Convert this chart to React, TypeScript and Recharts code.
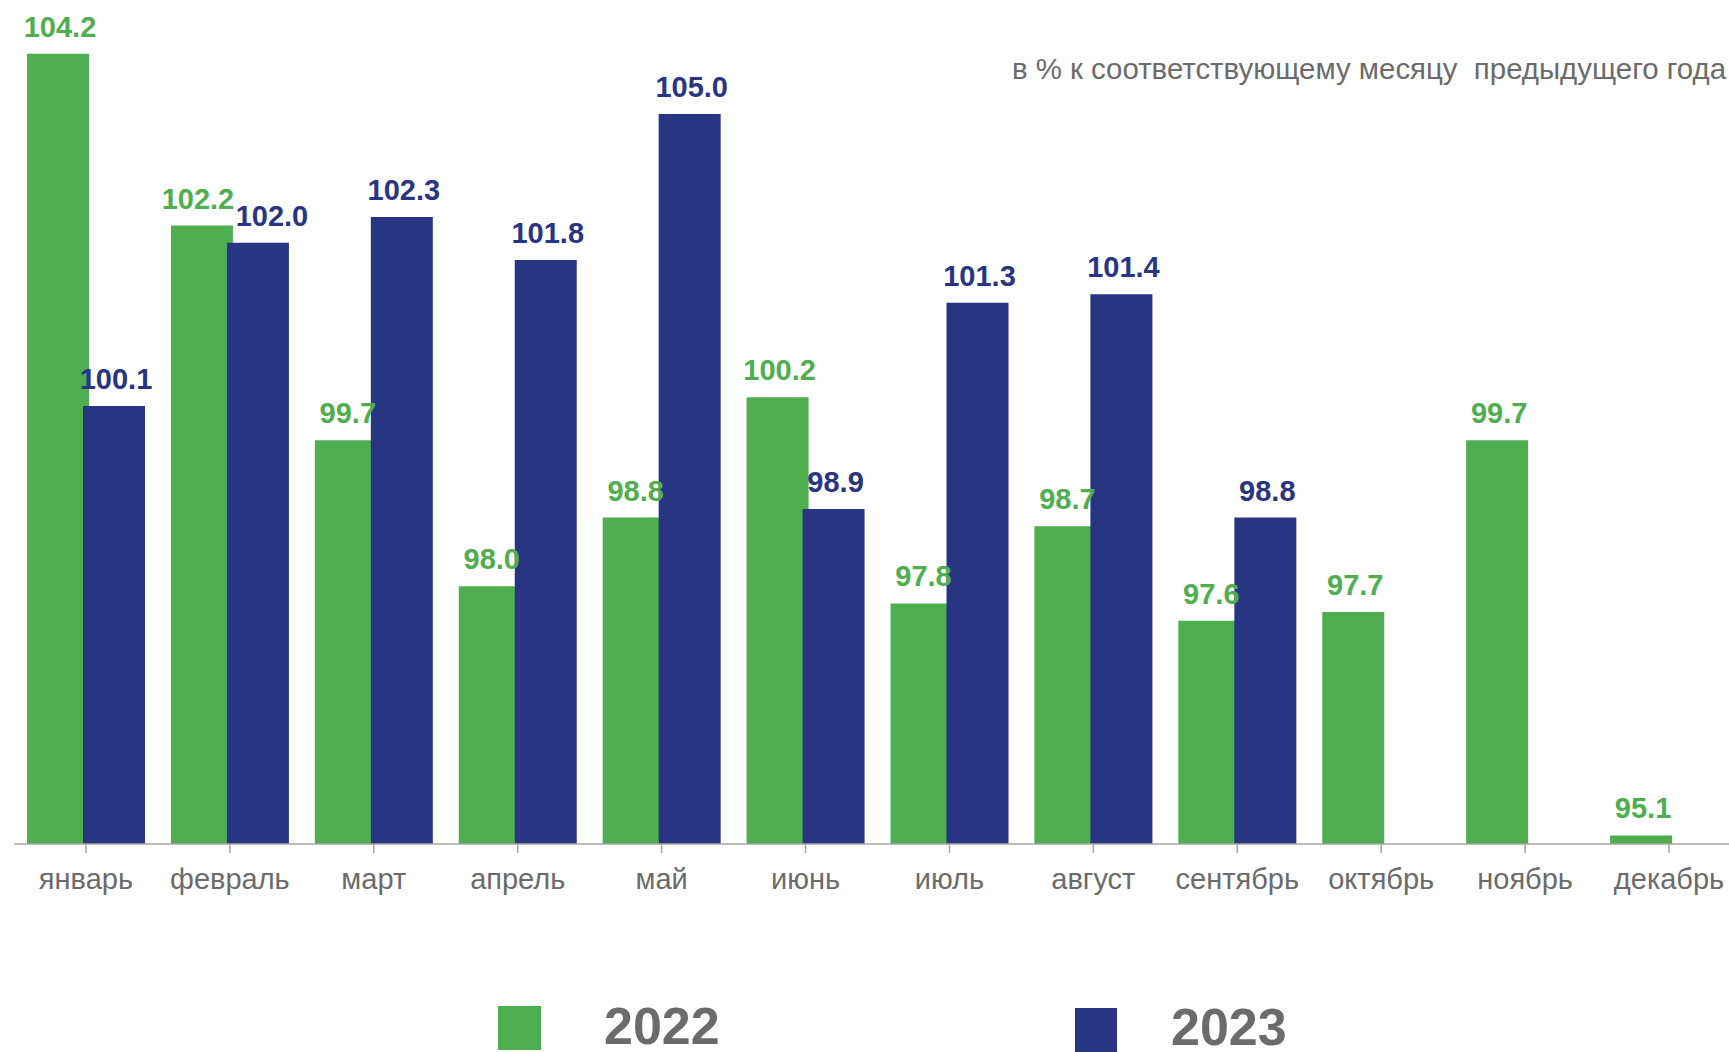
import React from 'react';
import { BarChart, Bar, XAxis, YAxis, LabelList, Legend } from 'recharts';

const months = ['январь', 'февраль', 'март', 'апрель', 'май', 'июнь', 'июль', 'август', 'сентябрь', 'октябрь', 'ноябрь', 'декабрь'];

const values2022 = [104.2, 102.2, 99.7, 98.0, 98.8, 100.2, 97.8, 98.7, 97.6, 97.7, 99.7, 95.1];

// heights as drawn in the source; the may bar sits lower than its 105.0 label
const values2023 = [100.1, 102.0, 102.3, 101.8, 103.5, 98.9, 101.3, 101.4, 98.8, null, null, null];
const labels2023 = ['100.1', '102.0', '102.3', '101.8', '105.0', '98.9', '101.3', '101.4', '98.8', null, null, null];

const GREEN = '#4FAE4F';
const BLUE = '#283583';
const GREY = '#6b6b6b';

const data = months.map((m, i) => ({
  month: m,
  y2022: values2022[i],
  y2023: values2023[i],
  l2022: values2022[i].toFixed(1),
  l2023: labels2023[i],
}));

// labels of neighbouring bars with close heights get pushed apart
const isClash = (i: number) => {
  const b = values2023[i];
  return b != null && Math.abs(values2022[i] - b) < 0.5;
};

const makeLabel = (color: string, side: number) => (props: any) => {
  const { x, y, width, value, index } = props;
  if (value == null) return null;
  const dx = isClash(index) ? (side > 0 ? 14 : -4) : 2;
  return (
    <text
      x={x + width / 2 + dx}
      y={y - 17}
      textAnchor='middle'
      fill={color}
      fontSize={29}
      fontWeight='bold'
    >
      {value}
    </text>
  );
};

const renderLegend = () => (
  <div style={{ position: 'relative', width: 1729, height: 46 }}>
    <div style={{ position: 'absolute', left: 498, top: 0, width: 43, height: 44, background: GREEN }} />
    <div style={{ position: 'absolute', left: 604, top: -2, fontSize: 52, fontWeight: 'bold', lineHeight: '44px', color: GREY }}>2022</div>
    <div style={{ position: 'absolute', left: 1075, top: 2, width: 42, height: 44, background: BLUE }} />
    <div style={{ position: 'absolute', left: 1171, top: -1, fontSize: 52, fontWeight: 'bold', lineHeight: '44px', color: GREY }}>2023</div>
  </div>
);

const App: React.FC = () => {
  return (
    <div
      style={{
        position: 'relative',
        width: 1729,
        height: 1052,
        overflow: 'hidden',
        fontFamily: '"Liberation Sans", Arial, sans-serif',
      }}
    >
      <style>{'html, body { margin: 0; padding: 0; overflow: hidden; }'}</style>
      <div
        style={{
          position: 'absolute',
          right: 3,
          top: 51,
          fontSize: 29.4,
          lineHeight: '36px',
          color: GREY,
          whiteSpace: 'pre',
          zIndex: 2,
        }}
      >
        {'в % к соответствующему месяцу  предыдущего года'}
      </div>
      <BarChart
        width={1741}
        height={1052}
        data={data}
        margin={{ top: 28, right: 0, left: 14, bottom: 0 }}
        barSize={62}
        barGap={-6}
      >
        <XAxis
          dataKey='month'
          height={208}
          interval={0}
          axisLine={{ stroke: '#a6a6a6', strokeWidth: 1.5 }}
          tickLine={{ stroke: '#a6a6a6', strokeWidth: 1.5 }}
          tickSize={9}
          tickMargin={15}
          tick={{ fontSize: 29, fill: GREY }}
        />
        <YAxis hide domain={[95, 104.5]} allowDataOverflow />
        <Legend
          layout='horizontal'
          verticalAlign='middle'
          align='center'
          wrapperStyle={{ position: 'absolute', left: 0, top: 1006, width: 1729, height: 46 }}
          content={renderLegend}
        />
        <Bar dataKey='y2022' fill={GREEN} isAnimationActive={false}>
          <LabelList dataKey='l2022' content={makeLabel(GREEN, -1)} />
        </Bar>
        <Bar dataKey='y2023' fill={BLUE} isAnimationActive={false}>
          <LabelList dataKey='l2023' content={makeLabel(BLUE, 1)} />
        </Bar>
      </BarChart>
    </div>
  );
};

export default App;
